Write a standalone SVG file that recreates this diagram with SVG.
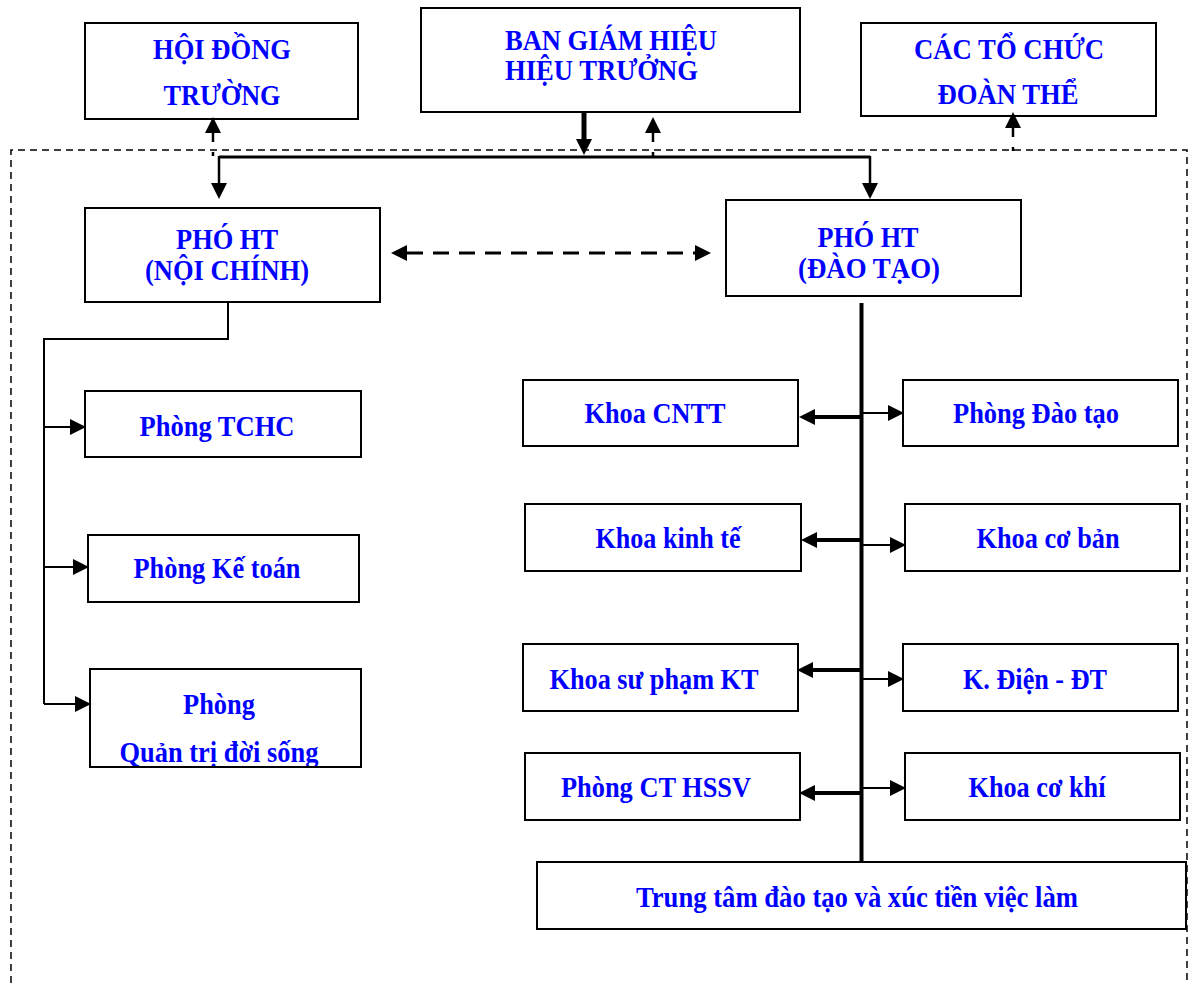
<svg xmlns="http://www.w3.org/2000/svg" width="1190" height="983" viewBox="0 0 1190 983">
<style>
.box{fill:#fff;stroke:#000;stroke-width:2}
.t{font-family:"Liberation Serif","Times New Roman",serif;font-weight:bold;font-size:29px;fill:#0000FF;text-anchor:middle}
.ts{text-anchor:start}
.ln{fill:none;stroke:#000;stroke-width:2}
.thick{fill:none;stroke:#000;stroke-width:4}
.border{fill:none;stroke:#000;stroke-width:1.5;stroke-dasharray:7 5}
</style>
<defs>
<marker id="ah" markerUnits="userSpaceOnUse" markerWidth="16" markerHeight="16" refX="0" refY="8" orient="auto">
<path d="M0,0 L16,8 L0,16 z" fill="#000" stroke="none"/>
</marker>
<marker id="ahs" markerUnits="userSpaceOnUse" markerWidth="16" markerHeight="16" refX="0" refY="8" orient="auto-start-reverse">
<path d="M0,0 L16,8 L0,16 z" fill="#000" stroke="none"/>
</marker>
</defs>

<path class="border" d="M11,983 V150 H1187 V983"/>

<g id="hoi-dong-truong">
<rect class="box" x="85" y="23" width="273" height="96"/>
<text class="t" x="222" y="59" textLength="138" lengthAdjust="spacingAndGlyphs">HỘI ĐỒNG</text>
<text class="t" x="222" y="105" textLength="117" lengthAdjust="spacingAndGlyphs">TRƯỜNG</text>
</g>
<g id="ban-giam-hieu">
<rect class="box" x="421" y="8" width="379" height="104"/>
<text class="t ts" x="505" y="50" textLength="212" lengthAdjust="spacingAndGlyphs">BAN GIÁM HIỆU</text>
<text class="t ts" x="505" y="80" textLength="193" lengthAdjust="spacingAndGlyphs">HIỆU TRƯỞNG</text>
</g>
<g id="cac-to-chuc">
<rect class="box" x="861" y="23" width="295" height="93"/>
<text class="t" x="1009" y="59" textLength="190" lengthAdjust="spacingAndGlyphs">CÁC TỔ CHỨC</text>
<text class="t" x="1008" y="104" textLength="141" lengthAdjust="spacingAndGlyphs">ĐOÀN THỂ</text>
</g>
<g id="pho-ht-noi-chinh">
<rect class="box" x="85" y="208" width="295" height="94"/>
<text class="t" x="227" y="249" textLength="102" lengthAdjust="spacingAndGlyphs">PHÓ HT</text>
<text class="t" x="227" y="280" textLength="164" lengthAdjust="spacingAndGlyphs">(NỘI CHÍNH)</text>
</g>
<g id="pho-ht-dao-tao">
<rect class="box" x="726" y="200" width="295" height="96"/>
<text class="t" x="868" y="247" textLength="101" lengthAdjust="spacingAndGlyphs">PHÓ HT</text>
<text class="t" x="869" y="278" textLength="142" lengthAdjust="spacingAndGlyphs">(ĐÀO TẠO)</text>
</g>
<g id="phong-tchc">
<rect class="box" x="85" y="391" width="276" height="66"/>
<text class="t" x="217" y="436" textLength="155" lengthAdjust="spacingAndGlyphs">Phòng TCHC</text>
</g>
<g id="phong-ke-toan">
<rect class="box" x="88" y="535" width="271" height="67"/>
<text class="t" x="217" y="578" textLength="167" lengthAdjust="spacingAndGlyphs">Phòng Kế toán</text>
</g>
<g id="phong-quan-tri">
<rect class="box" x="90" y="669" width="271" height="98"/>
<text class="t" x="219" y="714" textLength="72" lengthAdjust="spacingAndGlyphs">Phòng</text>
<text class="t" x="219" y="762" textLength="199" lengthAdjust="spacingAndGlyphs">Quản trị đời sống</text>
<rect x="88" y="766" width="275" height="12" fill="#fff"/>
<line x1="89" y1="767" x2="362" y2="767" stroke="#000" stroke-width="2"/>
</g>
<g id="khoa-cntt">
<rect class="box" x="523" y="380" width="275" height="66"/>
<text class="t" x="655" y="423" textLength="141" lengthAdjust="spacingAndGlyphs">Khoa CNTT</text>
</g>
<g id="khoa-kinh-te">
<rect class="box" x="525" y="504" width="276" height="67"/>
<text class="t" x="668" y="548" textLength="145" lengthAdjust="spacingAndGlyphs">Khoa kinh tế</text>
</g>
<g id="khoa-su-pham">
<rect class="box" x="523" y="644" width="275" height="67"/>
<text class="t" x="654" y="689" textLength="209" lengthAdjust="spacingAndGlyphs">Khoa sư phạm KT</text>
</g>
<g id="phong-ct-hssv">
<rect class="box" x="525" y="753" width="275" height="67"/>
<text class="t" x="656" y="797" textLength="190" lengthAdjust="spacingAndGlyphs">Phòng CT HSSV</text>
</g>
<g id="phong-dao-tao">
<rect class="box" x="903" y="380" width="275" height="66"/>
<text class="t" x="1036" y="423" textLength="166" lengthAdjust="spacingAndGlyphs">Phòng Đào tạo</text>
</g>
<g id="khoa-co-ban">
<rect class="box" x="905" y="504" width="275" height="67"/>
<text class="t" x="1048" y="548" textLength="143" lengthAdjust="spacingAndGlyphs">Khoa cơ bản</text>
</g>
<g id="khoa-dien">
<rect class="box" x="903" y="644" width="275" height="67"/>
<text class="t" x="1035" y="689" textLength="144" lengthAdjust="spacingAndGlyphs">K. Điện - ĐT</text>
</g>
<g id="khoa-co-khi">
<rect class="box" x="905" y="753" width="275" height="67"/>
<text class="t" x="1037" y="797" textLength="137" lengthAdjust="spacingAndGlyphs">Khoa cơ khí</text>
</g>
<g id="trung-tam">
<rect class="box" x="537" y="862" width="649" height="67"/>
<text class="t" x="857" y="907" textLength="442" lengthAdjust="spacingAndGlyphs">Trung tâm đào tạo và xúc tiền việc làm</text>
</g>

<g id="connectors">
<line x1="584" y1="113" x2="584" y2="139" stroke="#000" stroke-width="5" marker-end="url(#ah)"/>
<line x1="219" y1="157" x2="870" y2="157" stroke="#000" stroke-width="3"/>
<line x1="219" y1="156" x2="219" y2="183" stroke="#000" stroke-width="2.5" marker-end="url(#ah)"/>
<line x1="870" y1="156" x2="870" y2="183" stroke="#000" stroke-width="2.5" marker-end="url(#ah)"/>
<line x1="653" y1="156" x2="653" y2="133" stroke="#000" stroke-width="2.5" stroke-dasharray="4 10 9" marker-end="url(#ah)"/>
<line x1="213" y1="156" x2="213" y2="133" stroke="#000" stroke-width="2.5" stroke-dasharray="4 10 9" marker-end="url(#ah)"/>
<line x1="1013" y1="151" x2="1013" y2="128" stroke="#000" stroke-width="2.5" stroke-dasharray="4 10 9" marker-end="url(#ah)"/>
<line x1="407" y1="253" x2="695" y2="253" stroke="#000" stroke-width="3" stroke-dasharray="16 10" marker-start="url(#ahs)" marker-end="url(#ah)"/>
<path class="ln" d="M228,302 V339 H44 V704"/>
<line class="ln" x1="44" y1="427" x2="70" y2="427" marker-end="url(#ah)"/>
<line class="ln" x1="44" y1="567" x2="73" y2="567" marker-end="url(#ah)"/>
<line class="ln" x1="44" y1="704" x2="75" y2="704" marker-end="url(#ah)"/>
<line class="thick" x1="861.5" y1="303" x2="861.5" y2="862"/>
<line class="thick" x1="860" y1="417" x2="815" y2="417" marker-end="url(#ah)"/>
<line class="thick" x1="860" y1="540" x2="817" y2="540" marker-end="url(#ah)"/>
<line class="thick" x1="860" y1="670" x2="813" y2="670" marker-end="url(#ah)"/>
<line class="thick" x1="860" y1="793" x2="815" y2="793" marker-end="url(#ah)"/>
<line class="ln" x1="862" y1="413" x2="888" y2="413" marker-end="url(#ah)"/>
<line class="ln" x1="862" y1="545" x2="890" y2="545" marker-end="url(#ah)"/>
<line class="ln" x1="862" y1="679" x2="888" y2="679" marker-end="url(#ah)"/>
<line class="ln" x1="862" y1="788" x2="890" y2="788" marker-end="url(#ah)"/>
</g>
</svg>
